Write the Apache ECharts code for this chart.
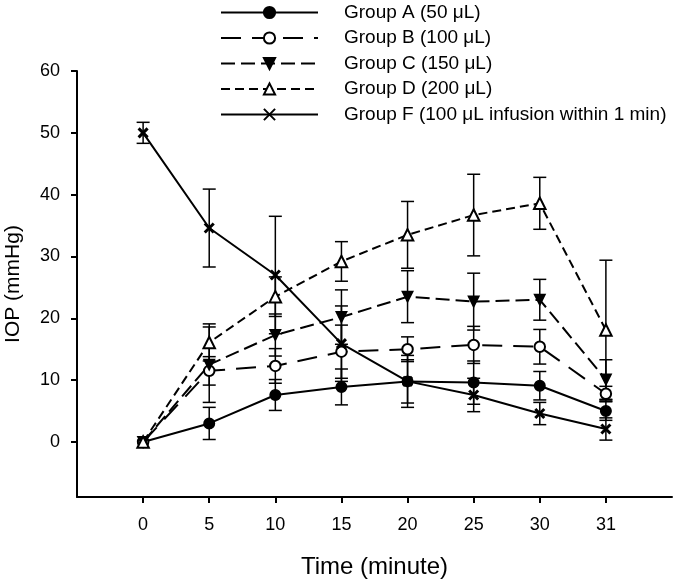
<!DOCTYPE html>
<html>
<head>
<meta charset="utf-8">
<script src="https://cdn.jsdelivr.net/npm/echarts@6/dist/echarts.min.js"></script>
<style>html,body{margin:0;padding:0;background:#fff}#c{width:675px;height:581px}</style>
</head>
<body>
<div id="c"></div>
<script>
const timeLabels = ['0','5','10','15','20','25','30','31'];
const yTicks = [0,10,20,30,40,50,60];
const groupA    = [0, 3.0, 7.6, 8.9, 9.8, 9.6, 9.1, 5.0];
const groupAErr = [0, 2.6, 2.5, 2.9, 3.5, 3.5, 2.3, 1.5];
const groupB    = [0, 11.5, 12.3, 14.6, 15.0, 15.7, 15.4, 7.8];
const groupBErr = [0, 2.3, 2.8, 4.3, 2.0, 3.0, 2.8, 1.2];
const groupC    = [0, 12.5, 17.3, 20.2, 23.5, 22.7, 23.0, 10.1];
const groupCErr = [0, 6.1, 3.4, 4.4, 4.2, 4.6, 3.3, 3.2];
const groupD    = [0, 16.1, 23.5, 29.2, 33.5, 36.7, 38.6, 18.1];
const groupDErr = [0, 3.0, 3.2, 3.2, 5.4, 6.6, 4.2, 11.3];
const groupF    = [50, 34.6, 27.0, 15.9, 9.8, 7.6, 4.6, 2.1];
const groupFErr = [1.7, 6.3, 9.5, 6.1, 4.2, 2.7, 1.8, 1.8];

const FONT = "'Liberation Sans', Arial, sans-serif";
const xIdx = timeLabels.map((_, i) => i);

function pts(vals) { return vals.map((v, i) => [i, v]); }
function errData(vals, errs) {
  const out = [];
  vals.forEach((v, i) => { if (errs[i] > 0) out.push([i, v - errs[i], v + errs[i]]); });
  return out;
}
function errSeries(vals, errs) {
  return {
    type: 'custom', z: 1, silent: true,
    data: errData(vals, errs),
    encode: { x: 0, y: [1, 2] },
    renderItem: function (params, api) {
      const x = api.value(0);
      const lo = api.coord([x, api.value(1)]);
      const hi = api.coord([x, api.value(2)]);
      const w = 6.5;
      const st = { stroke: '#000', lineWidth: 1.5 };
      return { type: 'group', children: [
        { type: 'line', shape: { x1: lo[0], y1: lo[1], x2: hi[0], y2: hi[1] }, style: st },
        { type: 'line', shape: { x1: lo[0]-w, y1: lo[1], x2: lo[0]+w, y2: lo[1] }, style: st },
        { type: 'line', shape: { x1: hi[0]-w, y1: hi[1], x2: hi[0]+w, y2: hi[1] }, style: st }
      ]};
    }
  };
}
function lineSeries(name, vals, symbol, dash, extra) {
  return Object.assign({
    name: name, type: 'line', z: 3, data: pts(vals),
    symbol: symbol, symbolSize: 10.5,
    lineStyle: { color: '#000', width: 2, type: dash },
    itemStyle: { color: '#000', borderColor: '#000', borderWidth: 1.5 },
    emphasis: { disabled: true }
  }, extra || {});
}

const names = ['Group A (50 μL)', 'Group B (100 μL)', 'Group C (150 μL)', 'Group D (200 μL)', 'Group F (100 μL infusion within 1 min)'];

const chart = echarts.init(document.getElementById('c'));
chart.setOption({
  animation: false,
  backgroundColor: '#fff',
  textStyle: { fontFamily: FONT, color: '#000' },
  legend: {
    orient: 'vertical', left: 220, top: 2.5, padding: 0,
    itemWidth: 97, itemHeight: 14, itemGap: 5.5,
    textStyle: { fontFamily: FONT, fontSize: 19, color: '#000', lineHeight: 20, padding: [0,0,0,21] },
    data: names
  },
  grid: { left: 77, right: 3, top: 71, bottom: 84, outerBoundsMode: 'none', containLabel: false },
  xAxis: {
    type: 'value', min: -1, max: 8,
    name: 'Time (minute)', nameLocation: 'middle', nameGap: 58,
    nameTextStyle: { fontFamily: FONT, fontSize: 24, color: '#000' },
    axisLine: { show: true, onZero: false, lineStyle: { color: '#000', width: 2 } },
    axisTick: { show: true, length: 6, customValues: xIdx, lineStyle: { color: '#000', width: 2 } },
    axisLabel: { customValues: xIdx, margin: 19, fontSize: 18, color: '#000', fontFamily: FONT,
      formatter: v => timeLabels[Math.round(v)] },
    splitLine: { show: false }
  },
  yAxis: {
    type: 'value', min: -8.9, max: 60,
    name: 'IOP (mmHg)', nameLocation: 'middle', nameGap: 53, nameRotate: 90,
    nameTextStyle: { fontFamily: FONT, fontSize: 21, color: '#000' },
    axisLine: { show: true, onZero: false, lineStyle: { color: '#000', width: 2 } },
    axisTick: { show: true, length: 6, customValues: yTicks, lineStyle: { color: '#000', width: 2 } },
    axisLabel: { customValues: yTicks, margin: 17, fontSize: 18, color: '#000', fontFamily: FONT },
    splitLine: { show: false }
  },
  series: [
    errSeries(groupA, groupAErr),
    errSeries(groupB, groupBErr),
    errSeries(groupC, groupCErr),
    errSeries(groupD, groupDErr),
    errSeries(groupF, groupFErr),
    lineSeries(names[0], groupA, 'circle', 'solid'),
    lineSeries(names[1], groupB, 'emptyCircle', [20, 11]),
    lineSeries(names[2], groupC, 'triangle', [14, 6], { symbolRotate: 180 }),
    lineSeries(names[3], groupD, 'emptyTriangle', [9, 5], { symbolSize: 11.5 }),
    lineSeries(names[4], groupF, 'path://M0,0L10,10M10,0L0,10', 'solid',
      { itemStyle: { color: 'none', borderColor: '#000', borderWidth: 3 }, symbolSize: 9 })
  ]
});
</script>
</body>
</html>
